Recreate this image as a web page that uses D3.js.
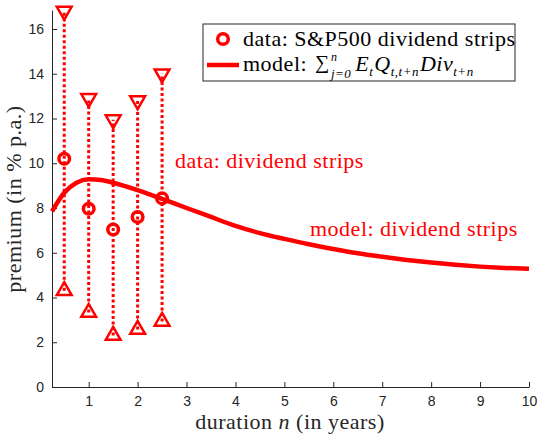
<!DOCTYPE html>
<html>
<head>
<meta charset="utf-8">
<script src="https://cdn.jsdelivr.net/npm/d3@7"></script>
<style>
  body { margin: 0; background: #fff; }
  .tick text { font-family: "Liberation Sans", Arial, sans-serif; font-size: 14px; fill: #262626; }
  .tick line, .domain { stroke: #262626; }
</style>
</head>
<body>
<svg width="540" height="434"></svg>
<script>
// strip data (duration in years, premium in % p.a.)
var durations = [0.5, 1, 1.5, 2, 2.5];
var stripMean = [10.2, 7.97, 7.04, 7.6, 8.43];
var stripUpper = [16.8, 12.9, 11.95, 12.8, 14.0];
var stripLower = [4.3, 3.33, 2.3, 2.57, 2.93];

// model curve
var modelN = [0.25, 0.5, 0.75, 1, 1.25, 1.5, 2, 2.5, 3, 3.5, 4, 4.5, 5, 5.5, 6, 6.5, 7, 7.5, 8, 8.5, 9, 9.5, 10];
var modelPremium = [7.85, 8.68, 9.13, 9.28, 9.25, 9.13, 8.8, 8.41, 8.0, 7.6, 7.2, 6.88, 6.62, 6.38, 6.17, 5.98, 5.82, 5.68, 5.56, 5.46, 5.38, 5.32, 5.28];

var xTicks = [1, 2, 3, 4, 5, 6, 7, 8, 9, 10];
var yTicks = [0, 2, 4, 6, 8, 10, 12, 14, 16];

var svg = d3.select("svg"),
    red = "#ff0000",
    serif = "'Liberation Serif', 'Times New Roman', Times, serif";

var x = d3.scaleLinear().domain([0.25, 10]).range([52, 529]);
var y = d3.scaleLinear().domain([0, 16.85]).range([387, 10]);

// axes (ticks point inward)
svg.append("g")
    .attr("transform", "translate(0,387)")
    .call(d3.axisBottom(x).tickValues(xTicks).tickSize(-5).tickPadding(9).tickSizeOuter(0))
  .selectAll("text").attr("dy", "0.71em");

svg.append("g")
    .attr("transform", "translate(52,0)")
    .call(d3.axisLeft(y).tickValues(yTicks).tickSize(-5).tickPadding(8).tickSizeOuter(0));

// model line
var line = d3.line()
    .x(function(d, i) { return x(modelN[i]); })
    .y(function(d) { return y(d); })
    .curve(d3.curveMonotoneX);

svg.append("path")
    .datum(modelPremium)
    .attr("d", line)
    .attr("fill", "none")
    .attr("stroke", red)
    .attr("stroke-width", 4.5);

// dotted ranges
svg.selectAll(".range")
    .data(durations)
  .enter().append("line")
    .attr("class", "range")
    .attr("x1", function(d) { return x(d); })
    .attr("x2", function(d) { return x(d); })
    .attr("y1", function(d, i) { return y(stripLower[i]); })
    .attr("y2", function(d, i) { return y(stripUpper[i]); })
    .attr("stroke", red)
    .attr("stroke-width", 3)
    .attr("stroke-dasharray", "3,2.5");

var tri = d3.symbol().type(d3.symbolTriangle).size(95);

svg.selectAll(".up")
    .data(durations)
  .enter().append("path")
    .attr("class", "up")
    .attr("d", tri)
    .attr("transform", function(d, i) { return "translate(" + x(d) + "," + y(stripLower[i]) + ")"; })
    .attr("fill", "none")
    .attr("stroke", red)
    .attr("stroke-width", 2.5);

svg.selectAll(".down")
    .data(durations)
  .enter().append("path")
    .attr("class", "down")
    .attr("d", tri)
    .attr("transform", function(d, i) { return "translate(" + x(d) + "," + y(stripUpper[i]) + ") rotate(180)"; })
    .attr("fill", "none")
    .attr("stroke", red)
    .attr("stroke-width", 2.5);

svg.selectAll(".mean")
    .data(durations)
  .enter().append("circle")
    .attr("class", "mean")
    .attr("cx", function(d) { return x(d); })
    .attr("cy", function(d, i) { return y(stripMean[i]); })
    .attr("r", 5.3)
    .attr("fill", "none")
    .attr("stroke", red)
    .attr("stroke-width", 3.5);

function label(sel, size, fill) {
  return sel.attr("font-family", serif)
      .attr("letter-spacing", "0.5px")
      .attr("font-size", size)
      .attr("fill", fill);
}

// annotations
label(svg.append("text"), 22, red)
    .attr("x", 175).attr("y", 168)
    .text("data: dividend strips");

label(svg.append("text"), 22, red)
    .attr("x", 310).attr("y", 236)
    .text("model: dividend strips");

// axis labels
var xl = label(svg.append("text"), 22, "#262626")
    .attr("x", 290).attr("y", 429)
    .attr("text-anchor", "middle");
xl.append("tspan").text("duration ");
xl.append("tspan").attr("font-style", "italic").text("n");
xl.append("tspan").text(" (in years)");

label(svg.append("text"), 22, "#262626")
    .attr("transform", "translate(21,199) rotate(-90)")
    .attr("text-anchor", "middle")
    .text("premium (in % p.a.)");

// legend
var legend = svg.append("g");
legend.append("rect")
    .attr("x", 203).attr("y", 24).attr("width", 312).attr("height", 57)
    .attr("fill", "#fff").attr("stroke", "#262626").attr("stroke-width", 1);

legend.append("circle")
    .attr("cx", 223).attr("cy", 39).attr("r", 5.3)
    .attr("fill", "none").attr("stroke", red).attr("stroke-width", 3.5);

label(legend.append("text"), 22, "#000")
    .attr("x", 243).attr("y", 46)
    .text("data: S&P500 dividend strips");

legend.append("line")
    .attr("x1", 207).attr("x2", 239).attr("y1", 65).attr("y2", 65)
    .attr("stroke", red).attr("stroke-width", 4.5);

// model formula, laid out piece by piece
var base = 71, cx = 243;
function put(str, size, dy, italic) {
  var t = label(legend.append("text"), size, "#000")
      .attr("x", cx).attr("y", base + dy)
      .attr("font-style", italic ? "italic" : "normal")
      .text(str);
  return t.node().getComputedTextLength();
}
cx += put("model:", 22, 0, false) + 8;
cx += put("\u2211", 20, -2, false) + 1;
var supW = put("n", 12, -10, true);
var subW = put("j=0", 13, 7, true);
cx += Math.max(supW, subW) + 4;
cx += put("E", 22, 0, true);
cx += put("t", 13, 5, true) + 1;
cx += put("Q", 22, 0, true);
cx += put("t,t+n", 13, 5, true) + 1;
cx += put("Div", 22, 0, true);
put("t+n", 13, 5, true);
</script>
</body>
</html>
